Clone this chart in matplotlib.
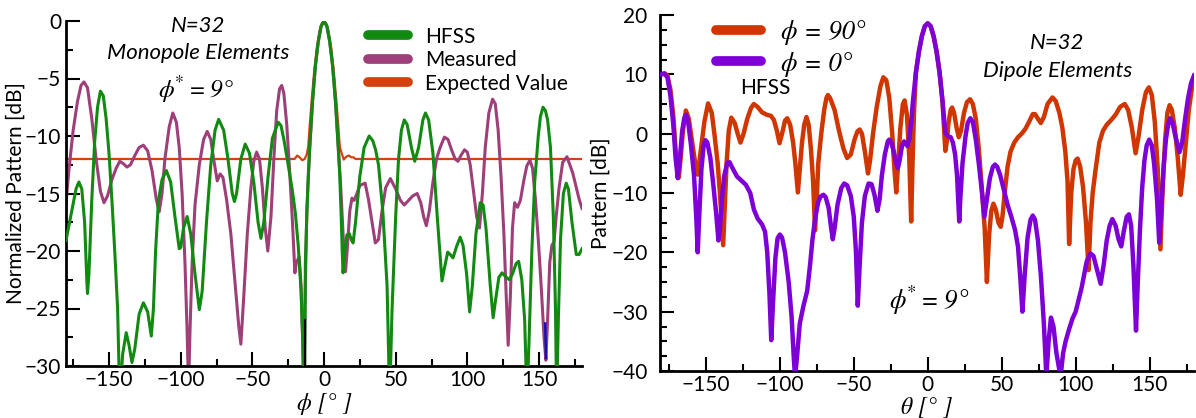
import matplotlib
matplotlib.use("Agg")
import matplotlib.pyplot as plt
from matplotlib.lines import Line2D
from matplotlib.ticker import MultipleLocator

plt.rcParams['font.family'] = ['Lato', 'DejaVu Sans']

SERIF_IT = dict(family=['STIXGeneral', 'DejaVu Serif'], style='italic')
# italic serif phi with a raised asterisk; \mathdefault takes the text's own font
PHI_STAR = '$\\mathdefault{\u03d5}^{\\mathdefault{*}}\\mathdefault{=9\u00b0}$'

# ---------------- Monopole array (left): (phi [deg], level [dB]) ----------------
hfss = [(-180, -19.1), (-176, -16.5), (-173, -14.6), (-171, -14.0), (-169, -14.6), (-167, -17.5),
        (-165.5, -22.5), (-165, -23.7), (-164, -22.0), (-162, -15.5), (-160, -10.5), (-158, -7.5),
        (-156, -6.1), (-154, -6.5), (-152, -8.5), (-150, -11.5), (-148, -15.5), (-146, -20.0),
        (-144, -25.0), (-142.5, -33.0), (-140.5, -29.0), (-138, -27.1), (-136, -28.2),
        (-134, -29.7), (-132, -28.5), (-129, -25.5), (-126, -24.5), (-123, -25.3),
        (-120.5, -27.4), (-119, -25.0), (-117.5, -20.0), (-115.5, -15.6), (-113, -13.8),
        (-110, -13.0), (-107, -14.0), (-104, -17.0), (-101, -19.8), (-100, -19.7), (-98, -18.0),
        (-95.5, -17.0), (-93, -18.5), (-90, -22.0), (-87, -25.1), (-85, -23.5), (-82, -17.5),
        (-79, -12.5), (-76, -9.5), (-73.5, -8.55), (-70, -9.5), (-67, -12.0), (-64, -15.0),
        (-62.5, -15.7), (-61, -15.0), (-58, -12.0), (-55, -10.7), (-52, -11.5), (-49, -14.0),
        (-46, -17.5), (-44, -18.9), (-42, -17.5), (-39, -13.5), (-36, -10.2), (-32, -8.8),
        (-30, -9.1), (-28, -10.3), (-25, -12.5), (-22, -14.8), (-20, -16.7), (-18, -19.5),
        (-16, -23.5), (-14.8, -28.0), (-14, -33.0), (-13.5, -33.0), (-13, -21.0), (-12, -17.0),
        (-11, -13.5), (-10, -11.0), (-8, -7.0), (-6, -3.9), (-4, -1.8), (-2, -0.45), (0, 0.0),
        (2, -0.45), (4, -1.8), (6, -3.9), (8, -7.0), (10, -11.0), (11, -13.5), (12, -17.0),
        (12.7, -20.0), (13.3, -21.9), (14.5, -20.0), (16, -18.6), (17.7, -18.5), (19, -19.0),
        (20.3, -19.3), (22, -17.5), (25, -13.5), (28, -11.0), (31.5, -10.0), (34, -10.4),
        (36, -11.2), (38, -12.5), (41, -16.5), (44, -23.0), (45.8, -33.0), (47.5, -25.0),
        (50, -17.0), (52, -12.0), (54, -9.5), (56, -8.6), (58, -9.0), (61, -11.0), (63.3, -12.2),
        (66, -11.0), (69, -8.6), (70.8, -8.0), (73, -8.6), (76, -11.5), (79, -17.0),
        (82.3, -22.6), (84, -21.5), (86.3, -20.1), (88, -20.3), (90, -20.6), (92.5, -19.6),
        (95, -18.8), (97, -19.5), (99.5, -22.0), (101.6, -25.3), (103.5, -23.0), (106, -18.5),
        (109, -15.8), (111, -16.0), (113, -18.0), (116, -23.0), (118, -25.8), (120, -24.0),
        (122, -22.3), (124.2, -21.9), (126.5, -22.2), (129.3, -22.5), (131.5, -22.0),
        (134, -21.1), (135.8, -20.9), (138, -22.5), (140, -26.0), (141.6, -33.0), (143, -28.0),
        (145, -20.0), (147, -14.0), (149.5, -10.0), (151, -8.3), (152.8, -7.5), (154.5, -7.8),
        (156, -8.6), (158, -11.0), (160, -17.0), (161.5, -25.0), (162.3, -33.0), (163.5, -26.0),
        (165, -19.0), (167, -15.0), (169, -14.1), (170.5, -14.6), (173, -17.5), (176, -20.3),
        (178, -20.3), (180, -19.8)]

measured = [(-180, -15.8), (-178, -13.0), (-175, -9.5), (-172, -7.0), (-169.5, -5.6),
            (-167.5, -5.3), (-165, -5.8), (-162, -8.5), (-159, -12.0), (-156, -14.8),
            (-153.5, -15.8), (-151, -15.2), (-148, -13.8), (-145, -12.8), (-142.5, -12.2),
            (-140, -12.4), (-137.5, -12.7), (-135, -12.5), (-132, -11.7), (-129, -11.0),
            (-126, -10.8), (-123, -11.3), (-120, -13.0), (-117, -15.5), (-115, -16.6),
            (-113, -15.0), (-111, -12.0), (-108, -9.2), (-105.5, -8.0), (-103, -8.8),
            (-101, -11.0), (-99, -15.0), (-97, -21.0), (-95.5, -27.0), (-94.5, -32.0),
            (-93.5, -27.0), (-92, -21.0), (-90, -16.0), (-87, -12.5), (-84, -10.3), (-81.5, -9.6),
            (-79, -10.3), (-77, -12.0), (-74.5, -13.9), (-72.5, -13.3), (-70.5, -13.6),
            (-68, -15.5), (-65, -18.5), (-62, -22.9), (-59.5, -26.5), (-58, -28.1), (-56, -24.0),
            (-53.5, -18.5), (-51, -14.5), (-49, -12.2), (-47, -11.4), (-45, -12.0), (-43, -14.5),
            (-41, -18.0), (-39.2, -20.0), (-37, -17.0), (-35, -12.0), (-33, -7.8), (-31, -5.9),
            (-29.5, -5.6), (-28, -6.3), (-26, -9.0), (-24, -13.0), (-22, -17.5), (-20.3, -21.9),
            (-19.3, -21.0), (-17.3, -20.5), (-16, -23.0), (-14.8, -28.0), (-14, -33.0),
            (-13.3, -25.0), (-12, -16.5), (-10, -11.2), (-8, -7.0), (-6, -3.9), (-4, -1.8),
            (-2, -0.45), (0, 0.0), (2, -0.45), (4, -1.8), (6, -3.9), (8, -7.0), (10, -11.2),
            (11.5, -14.0), (12.7, -17.0), (13.7, -19.5), (15, -21.8), (16.2, -19.9), (18, -16.5),
            (19.5, -15.4), (21, -15.6), (23, -15.0), (25, -14.3), (28.7, -14.1), (31, -15.5),
            (33.5, -17.5), (35.8, -19.3), (38, -19.0), (40.5, -16.5), (43, -14.5), (46.3, -13.7),
            (50, -14.6), (53.3, -15.6), (56, -16.0), (59, -15.6), (62, -15.2), (65, -15.0),
            (67.5, -15.8), (69.5, -17.0), (71.4, -17.8), (73.5, -16.5), (76, -14.0), (78.5, -12.0),
            (81, -11.0), (84, -10.1), (86.5, -10.3), (89, -11.2), (91.5, -12.0), (93.5, -12.2),
            (95.5, -11.7), (98, -11.2), (100, -11.4), (102, -12.5), (104, -14.5), (106.5, -17.0),
            (108.5, -18.0), (110.5, -15.0), (112.5, -11.0), (115, -8.0), (117.6, -6.8),
            (119.5, -7.2), (121.5, -9.5), (123.5, -13.5), (125.5, -18.5), (127, -23.5),
            (128.5, -28.2), (130, -24.0), (131.5, -18.0), (133, -15.8), (135, -16.2),
            (137, -15.6), (139.5, -13.8), (141.5, -12.6), (143.7, -12.1), (145.5, -12.8),
            (147.5, -15.5), (149.5, -19.0), (151.5, -23.0), (153.5, -27.5), (154.8, -29.5),
            (156, -26.0), (157.5, -21.0), (159, -19.5), (160.5, -19.2), (162, -17.0),
            (164, -14.5), (166.5, -12.3), (169.5, -11.8), (171.5, -12.5), (173.5, -13.2),
            (176, -14.5), (178, -15.5), (180, -16.3)]

expected = [(-180, -12.0), (-20.5, -12.0), (-18.7, -11.7), (-17, -11.85), (-15.2, -12.1),
            (-13.5, -12.0), (-12, -11.6), (-11, -10.9), (-10.2, -9.5), (-9, -7.5), (-7, -4.6),
            (-5, -2.3), (-3, -0.8), (-1.5, -0.2), (0, 0.0), (1.5, -0.2), (3, -0.8), (5, -2.3),
            (7, -4.6), (9, -7.5), (10.2, -9.5), (11, -10.9), (11.8, -11.3), (13.8, -12.05),
            (15.5, -11.8), (17.3, -11.7), (19, -11.85), (20.5, -11.85), (22, -12.0), (24, -12.0),
            (180, -12.0)]

# short artefact strokes near two nulls
stroke_black = [(-13.3, -26.0), (-13.3, -30.0)]
stroke_blue = [(154.3, -26.3), (154.9, -29.3)]

# ---------------- Dipole array (right): (theta [deg], level [dB]) ----------------
phi90 = [(-180, 10.0), (-178, 10.2), (-176, 9.8), (-174, 7.5), (-172, 3.0), (-170.5, -2.5),
         (-169, -6.5), (-168.3, -7.4), (-167, -4.0), (-165.5, 0.5), (-163.5, 3.9), (-161.5, 2.5),
         (-159.5, -1.0), (-157.5, -4.5), (-155.5, -6.9), (-153.5, -3.0), (-151, 2.0),
         (-148.5, 5.1), (-146, 3.5), (-144, -0.5), (-142, -5.0), (-140.5, -10.0), (-139, -16.0),
         (-138.3, -18.8), (-137.5, -14.0), (-136, -5.0), (-134.5, 0.5), (-132.8, 2.7),
         (-130.5, 1.8), (-128.5, 0.0), (-126.6, -1.5), (-124.5, 0.0), (-122, 2.5), (-119.5, 4.3),
         (-117.6, 5.0), (-115, 4.5), (-112, 3.6), (-109, 3.2), (-106, 3.0), (-104, 2.3),
         (-102, 0.5), (-100.2, -1.6), (-98, 0.5), (-96.5, 2.2), (-95, 2.6), (-93, 1.5),
         (-91, -1.5), (-89.5, -5.0), (-87.8, -9.9), (-86.5, -6.0), (-85, -1.5), (-83.5, 1.5),
         (-82, 2.8), (-80.5, 1.5), (-79, -2.5), (-77.5, -8.0), (-76.2, -16.3), (-75.2, -12.0),
         (-74, -5.0), (-72, 0.0), (-70, 4.0), (-68.5, 6.0), (-67.5, 6.5), (-66, 6.0), (-63, 4.0),
         (-60, 0.5), (-57, -2.5), (-54.5, -4.1), (-52, -3.5), (-49.5, -1.0), (-47.5, 0.4),
         (-46, 0.7), (-44.5, 0.0), (-42.5, -3.0), (-40.4, -6.7), (-39, -4.5), (-37, 0.0),
         (-34.5, 4.5), (-32, 8.0), (-30, 9.5), (-28, 9.0), (-26, 6.0), (-24, 0.0), (-22.5, -6.0),
         (-21.3, -9.9), (-20, -5.0), (-18.5, 1.0), (-16.8, 5.0), (-15.6, 5.6), (-14, 3.0),
         (-12.5, -4.0), (-11.2, -14.8), (-10.3, -5.0), (-9.3, 3.5), (-8, 10.3), (-6, 13.8),
         (-4, 16.4), (-2, 18.1), (0, 18.6), (2, 18.1), (4, 16.4), (6, 13.8), (8, 10.3),
         (10, 5.3), (11, 1.0), (11.9, -2.9), (12.8, -1.5), (14, 1.8), (15.5, 4.0), (16.5, 4.4),
         (17.8, 3.5), (19.5, 1.0), (21, -0.6), (22.5, 0.5), (24.5, 3.5), (26.5, 5.3),
         (28.6, 5.8), (30.5, 5.0), (32.5, 2.5), (34.5, -2.5), (36.5, -9.0), (38.5, -16.0),
         (40, -25.0), (41.5, -17.0), (43, -13.0), (44.4, -11.8), (46, -12.8), (47.8, -15.0),
         (49.3, -15.7), (50.5, -14.0), (52, -10.0), (54, -5.5), (56, -3.0), (58.5, -1.5),
         (61, -0.6), (63.5, 0.0), (66, 0.8), (68.5, 2.0), (71, 3.3), (72.5, 3.3), (74.5, 2.5),
         (76.4, 1.8), (78.5, 2.8), (81, 5.0), (84.3, 6.1), (86.5, 5.5), (89, 3.5), (91, 1.0),
         (93, -3.0), (94.5, -8.0), (95.6, -18.6), (97, -10.0), (98.5, -6.0), (100, -4.5),
         (101.3, -4.2), (103, -5.5), (105, -9.0), (107, -15.0), (108.7, -23.0), (110, -15.0),
         (111.5, -10.0), (113.5, -6.0), (116, -1.5), (118.5, 0.5), (121, 1.5), (124, 2.3),
         (127, 3.2), (130, 4.5), (133.2, 5.0), (135.5, 4.0), (138, 1.0), (140.5, -3.3),
         (142.5, -0.5), (145, 4.0), (147.5, 7.0), (149.5, 7.8), (151.5, 6.5), (153.5, 2.0),
         (155.5, -6.0), (157.3, -19.5), (159, -8.0), (160.5, -1.0), (162, 3.5), (163.5, 4.8),
         (165, 4.0), (167, 1.0), (169, -4.0), (171, -10.3), (172.5, -7.0), (174.5, -1.5),
         (176.5, 4.0), (178.5, 7.5), (180, 9.6)]

phi0 = [(-180, 10.0), (-178, 10.1), (-176, 9.5), (-174, 6.5), (-172, 1.5), (-170.5, -4.0),
        (-169, -7.5), (-167.5, -4.0), (-166, 0.5), (-164.5, 2.7), (-163.3, 3.2), (-162, 2.0),
        (-160, -2.0), (-158, -7.0), (-156.5, -14.0), (-155.5, -20.0), (-154.5, -14.0),
        (-153, -6.0), (-151.5, -2.0), (-150.3, -1.1), (-149, -1.5), (-147, -4.0), (-145, -8.5),
        (-143, -13.5), (-141.5, -18.0), (-140.5, -16.0), (-139, -10.5), (-137.5, -7.0),
        (-135.5, -4.9), (-134, -4.8), (-132, -5.8), (-129, -7.2), (-126, -7.9), (-123, -8.6),
        (-120, -10.0), (-117.5, -12.8), (-115, -14.3), (-112, -15.3), (-110, -16.5),
        (-108.5, -20.0), (-107, -27.0), (-105.8, -34.8), (-104.5, -28.0), (-103, -21.0),
        (-101.5, -17.6), (-100, -17.0), (-98.5, -17.5), (-96.5, -20.0), (-94, -25.0),
        (-92, -31.0), (-90.5, -38.0), (-89.7, -41.0), (-88.5, -38.0), (-86.5, -32.0),
        (-84, -29.0), (-81.5, -26.5), (-79.5, -22.0), (-78, -18.0), (-76, -14.0), (-74, -11.5),
        (-72.5, -10.6), (-70.5, -10.3), (-69, -10.7), (-67, -12.5), (-65.5, -15.5),
        (-64.2, -17.8), (-63, -16.0), (-61, -12.0), (-58.5, -9.2), (-56.5, -8.4), (-54.5, -8.7),
        (-52, -10.5), (-50, -14.0), (-48.5, -20.0), (-47.3, -29.0), (-46, -22.0), (-44.5, -15.0),
        (-42.5, -10.5), (-40, -8.4), (-38, -8.5), (-36, -10.3), (-34, -13.0), (-32.5, -11.0),
        (-31, -7.0), (-29, -3.5), (-27, -1.3), (-26, -1.0), (-24.5, -1.6), (-23, -3.0),
        (-21.5, -4.8), (-20.2, -5.8), (-19, -4.5), (-17.5, -2.2), (-16, -1.3), (-14.8, -1.6),
        (-13.8, -2.1), (-12.5, -1.0), (-11, 2.5), (-10, 5.5), (-8, 10.3), (-6, 13.8),
        (-4, 16.4), (-2, 18.1), (0, 18.6), (2, 18.1), (4, 16.4), (6, 13.8), (8, 10.3),
        (10, 5.5), (11.2, 2.0), (12.2, 0.0), (13.5, -0.4), (15.5, -0.6), (17, -1.5),
        (18.5, -3.5), (19.8, -7.0), (20.8, -12.0), (21.3, -14.8), (22, -11.0), (23.5, -5.0),
        (25.5, -0.5), (27, 1.8), (28.8, 2.6), (30.5, 2.0), (32.5, -1.0), (34.5, -5.0),
        (36.5, -9.5), (38.3, -14.0), (40, -11.0), (42, -7.5), (44, -5.6), (45.5, -5.2),
        (47, -5.6), (49, -7.0), (51.5, -9.5), (54, -12.0), (56.5, -14.0), (59, -16.2),
        (61, -19.0), (62.5, -24.0), (64, -30.0), (65.5, -24.0), (67.5, -17.5), (69.5, -14.5),
        (71, -13.8), (72.5, -14.5), (74.5, -18.0), (76.5, -24.0), (78.5, -32.0), (80.2, -41.0),
        (81.7, -35.0), (83.3, -31.0), (85, -32.5), (87, -37.0), (89.8, -41.0), (91.5, -37.0),
        (93.2, -35.0), (95.5, -33.0), (97.8, -31.2), (100, -30.0), (102, -28.0), (104, -26.0),
        (105.6, -23.9), (107.5, -21.5), (110, -20.2), (112, -20.6), (114, -22.5),
        (116.9, -25.3), (119, -22.0), (121, -18.0), (123, -15.5), (124.8, -14.4), (127, -15.5),
        (129, -17.8), (130.8, -19.0), (132.5, -16.5), (134.5, -14.0), (136, -13.6),
        (137.5, -15.5), (139, -22.0), (140.8, -33.2), (142, -25.0), (143.5, -16.0), (145, -9.0),
        (146.5, -4.5), (148, -2.0), (149.7, -1.0), (151.5, -2.0), (153, -5.0), (155, -11.0),
        (156.5, -18.4), (158, -12.0), (159.5, -5.5), (161, -1.0), (162.5, 1.5), (163.8, 2.6),
        (165.5, 1.8), (167.5, -0.5), (170.2, -3.1), (172, -1.5), (174, 2.5), (176, 6.0),
        (178, 8.5), (180, 9.8)]

C_GREEN = '#128A12'
C_MEAS = '#9E3F78'
C_EXP = '#D2410F'
C_P90 = '#CF3600'
C_P0 = '#7F00D6'

TICK_FS = 15


def xy(pairs):
    xs, ys = zip(*pairs)
    return list(xs), list(ys)


fig = plt.figure(figsize=(11.96, 4.18), dpi=100)
ax1 = fig.add_axes([66 / 1196, 52 / 418, 516 / 1196, 345 / 418])
ax2 = fig.add_axes([660 / 1196, 47 / 418, 534 / 1196, 356 / 418])


def style_axes(ax, ymajor):
    for s in ('top', 'right'):
        ax.spines[s].set_visible(False)
    for s in ('left', 'bottom'):
        ax.spines[s].set_linewidth(2.0)
    ax.xaxis.set_major_locator(MultipleLocator(50))
    ax.xaxis.set_minor_locator(MultipleLocator(25))
    ax.yaxis.set_major_locator(MultipleLocator(ymajor))
    ax.yaxis.set_minor_locator(MultipleLocator(2.5))
    ax.tick_params(which='major', direction='in', length=10, width=1.5, labelsize=TICK_FS)
    ax.tick_params(which='minor', direction='in', length=5, width=1.5)
    ax.tick_params(axis='y', pad=3.5)
    ax.tick_params(axis='x', pad=3)


# left panel
ax1.plot(*xy(hfss), color=C_GREEN, lw=2.2, zorder=3)
ax1.plot(*xy(measured), color=C_MEAS, lw=2.2, zorder=2)
ax1.plot(*xy(expected), color=C_EXP, lw=1.6, zorder=1)
ax1.plot(*xy(stroke_black), color='black', lw=1.5, zorder=4)
ax1.plot(*xy(stroke_blue), color='#1010C0', lw=1.8, zorder=4)
ax1.set_xlim(-180, 180)
ax1.set_ylim(-30, 0)
style_axes(ax1, 5)
ax1.set_ylabel('Normalized Pattern [dB]', fontsize=15)
ax1.yaxis.set_label_coords(-0.078, 0.5)
ax1.set_xlabel('\u03d5 [\u00b0 ]', fontsize=17, **SERIF_IT)
ax1.xaxis.set_label_coords(0.5, -0.078)

ax1.text(0.256, 0.985, 'N=32', transform=ax1.transAxes, ha='center', va='center',
         fontsize=16, style='italic')
ax1.text(0.256, 0.907, 'Monopole Elements', transform=ax1.transAxes, ha='center',
         va='center', fontsize=16, style='italic')
ax1.text(0.252, 0.80, PHI_STAR, transform=ax1.transAxes,
         ha='center', va='center', fontsize=18, **SERIF_IT)

h1 = [Line2D([], [], color=C_GREEN, lw=7, solid_capstyle='round'),
      Line2D([], [], color=C_MEAS, lw=7, solid_capstyle='round'),
      Line2D([], [], color=C_EXP, lw=7, solid_capstyle='round')]
ax1.legend(h1, ['HFSS', 'Measured', 'Expected Value'], loc='upper left',
           bbox_to_anchor=(0.585, 0.984), frameon=False, fontsize=15, borderpad=0,
           borderaxespad=0, handlelength=1.95, handletextpad=0.8, labelspacing=0.17)

# right panel
ax2.plot(*xy(phi90), color=C_P90, lw=3.2, zorder=2)
ax2.plot(*xy(phi0), color=C_P0, lw=3.2, zorder=3)
ax2.set_xlim(-181, 180)
ax2.set_ylim(-40, 20)
style_axes(ax2, 10)
ax2.tick_params(axis='y', pad=9)
ax2.set_ylabel('Pattern [dB]', fontsize=15)
ax2.yaxis.set_label_coords(-0.092, 0.5)
ax2.set_xlabel('\u03b8 [\u00b0 ]', fontsize=17, **SERIF_IT)
ax2.xaxis.set_label_coords(0.5, -0.07)

ax2.text(0.743, 0.921, 'N=32', transform=ax2.transAxes, ha='center', va='center',
         fontsize=16, style='italic')
ax2.text(0.745, 0.843, 'Dipole Elements', transform=ax2.transAxes, ha='center',
         va='center', fontsize=16, style='italic')
ax2.text(0.197, 0.794, 'HFSS', transform=ax2.transAxes, ha='center', va='center',
         fontsize=15)
ax2.text(0.504, 0.197, PHI_STAR, transform=ax2.transAxes,
         ha='center', va='center', fontsize=19, **SERIF_IT)

h2 = [Line2D([], [], color=C_P90, lw=7, solid_capstyle='round'),
      Line2D([], [], color=C_P0, lw=7, solid_capstyle='round')]
ax2.legend(h2, ['\u03d5 = 90\u00b0', '\u03d5 = 0\u00b0'],
           loc='upper left', bbox_to_anchor=(0.105, 0.986), frameon=False,
           prop=dict(size=19, **SERIF_IT),
           borderpad=0, borderaxespad=0, handlelength=1.7, handletextpad=0.75,
           labelspacing=0.25)

fig.savefig('out.png', dpi=100)
